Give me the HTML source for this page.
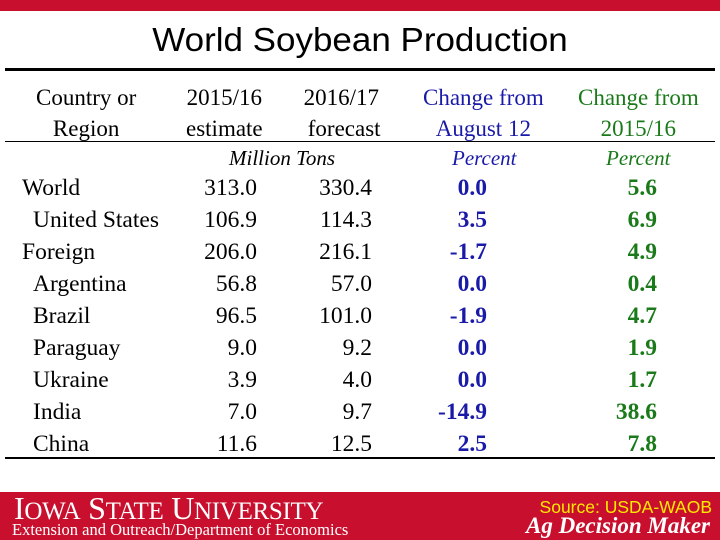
<!DOCTYPE html>
<html><head><meta charset="utf-8"><style>
body{margin:0;width:720px;height:540px;position:relative;background:#fff;overflow:hidden;font-family:"Liberation Serif",serif}
.a{position:absolute;white-space:nowrap}
.h{font-size:23px;line-height:23px}
.r{font-size:23.5px;line-height:24px}
.blue{color:#1a1aa8}.green{color:#1a7a1a}
</style></head><body>
<div class="a" style="left:0;top:0;width:720px;height:11px;background:#c8102e"></div>
<div class="a" style="left:0;width:720px;top:21px;text-align:center;font:33px 'Liberation Sans',sans-serif;transform:scaleX(1.06)">World Soybean Production</div>
<div class="a" style="left:5px;top:68px;width:710px;height:3px;background:#000"></div>
<div class="a" style="left:5px;top:141px;width:710px;height:1px;background:#000"></div>
<div class="a" style="left:5px;top:457px;width:710px;height:2px;background:#000"></div>

<div class="a h" style="left:36px;top:82px;text-align:center;line-height:31px">Country or<br>Region</div>
<div class="a h" style="left:186px;top:82px;text-align:center;line-height:31px">2015/16<br>estimate</div>
<div class="a h" style="left:302px;top:82px;text-align:center;line-height:31px">2016/17<br>&nbsp;forecast</div>
<div class="a h blue" style="left:423px;top:82px;text-align:center;line-height:31px">Change from<br>August 12</div>
<div class="a h green" style="left:578px;top:82px;text-align:center;line-height:31px">Change from<br>2015/16</div>
<div class="a" style="left:229px;top:146px;font-size:21px;font-style:italic">Million Tons</div>
<div class="a blue" style="left:452px;top:146px;font-size:21px;font-style:italic">Percent</div>
<div class="a green" style="left:606px;top:146px;font-size:21px;font-style:italic">Percent</div>
<div id="rows"></div>
<div class="a" style="left:0;top:492px;width:720px;height:48px;background:#c8102e"></div>
<div class="a" style="left:14px;top:490px;color:#fff;font-size:32px;letter-spacing:-0.3px">I<span style="font-size:25px">OWA</span> S<span style="font-size:25px">TATE</span> U<span style="font-size:25px">NIVERSITY</span></div>
<div class="a" style="left:12px;top:520px;color:#fff;font-size:16.5px">Extension and Outreach/Department of Economics</div>
<div class="a" style="right:8px;top:497px;color:#ffea00;font:17.5px 'Liberation Sans',sans-serif">Source: USDA-WAOB</div>
<div class="a" style="right:10px;top:513px;color:#fff;font-size:23px;font-weight:bold;font-style:italic">Ag Decision Maker</div>
<script>
const regions=["World","United States","Foreign","Argentina","Brazil","Paraguay","Ukraine","India","China"];
const indent=[0,1,0,1,1,1,1,1,1];
const est1516=["313.0","106.9","206.0","56.8","96.5","9.0","3.9","7.0","11.6"];
const fc1617=["330.4","114.3","216.1","57.0","101.0","9.2","4.0","9.7","12.5"];
const chgAug=["0.0","3.5","-1.7","0.0","-1.9","0.0","0.0","-14.9","2.5"];
const chgYr=["5.6","6.9","4.9","0.4","4.7","1.9","1.7","38.6","7.8"];
const host=document.getElementById('rows');
function cell(txt,style,cls,name){
  const d=document.createElement('div');
  d.className='a r '+(cls||'');
  d.setAttribute('style',style);
  d.textContent=txt;
  
  
  host.appendChild(d);
}
regions.forEach((r,i)=>{
  const y=176+i*32;
  cell(r,`left:${indent[i]?33:22}px;top:${y}px`,'', 'region-label');
  cell(est1516[i],`right:${720-257}px;top:${y}px`,'','value-2015');
  cell(fc1617[i],`right:${720-372}px;top:${y}px`,'','value-2016');
  cell(chgAug[i],`right:${720-487}px;top:${y}px;font-weight:bold`,'blue','change-august');
  cell(chgYr[i],`right:${720-657}px;top:${y}px;font-weight:bold`,'green','change-year');
});
</script>
</body></html>
